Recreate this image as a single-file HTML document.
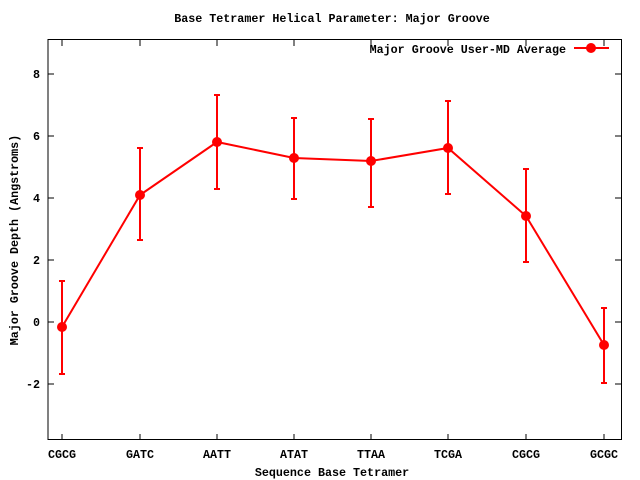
<!DOCTYPE html>
<html><head><style>body{margin:0;background:#fff}svg{display:block}text{font-family:"Liberation Mono",monospace;font-size:11.7px;font-weight:bold;fill:#000}</style></head><body>
<svg width="640" height="480" xmlns="http://www.w3.org/2000/svg">
<rect x="48" y="39.5" width="573.5" height="400" fill="none" stroke="#000" stroke-width="1"/>
<g stroke="#000">
<path d="M48 74h6M621 74h-6M48 136h6M621 136h-6M48 198h6M621 198h-6M48 260h6M621 260h-6M48 322h6M621 322h-6M48 384h6M621 384h-6"/>
<path d="M62 440v-6M140 440v-6M217 440v-6M294 440v-6M371 440v-6M448 440v-6M526 440v-6M604 440v-6M62 40v6M140 40v6M217 40v6M294 40v6M371 40v6M448 40v6M526 40v6M604 40v6"/>
</g>
<g text-anchor="end"><text x="40" y="78">8</text><text x="40" y="140">6</text><text x="40" y="202">4</text><text x="40" y="264">2</text><text x="40" y="326">0</text><text x="40" y="388">-2</text></g>
<g text-anchor="middle"><text x="62" y="458">CGCG</text><text x="140" y="458">GATC</text><text x="217" y="458">AATT</text><text x="294" y="458">ATAT</text><text x="371" y="458">TTAA</text><text x="448" y="458">TCGA</text><text x="526" y="458">CGCG</text><text x="604" y="458">GCGC</text>
<text x="332" y="476">Sequence Base Tetramer</text>
<text x="332" y="22">Base Tetramer Helical Parameter: Major Groove</text>
<text transform="translate(18,240) rotate(-90)">Major Groove Depth (Angstroms)</text></g>
<text x="566" y="53" text-anchor="end">Major Groove User-MD Average</text>
<g stroke="#f00" stroke-width="2" fill="none">
<path d="M574 48h35"/>
<polyline points="62,327 140,195 217,142 294,158 371,161 448,148 526,216 604,345"/>
<path d="M62 281v93M59 281h6M59 374h6 M140 148v92M137 148h6M137 240h6 M217 95v94M214 95h6M214 189h6 M294 118v81M291 118h6M291 199h6 M371 119v88M368 119h6M368 207h6 M448 101v93M445 101h6M445 194h6 M526 169v93M523 169h6M523 262h6 M604 308v75M601 308h6M601 383h6"/>
</g>
<g fill="#f00"><circle cx="591" cy="48" r="5"/><circle cx="62" cy="327" r="5"/><circle cx="140" cy="195" r="5"/><circle cx="217" cy="142" r="5"/><circle cx="294" cy="158" r="5"/><circle cx="371" cy="161" r="5"/><circle cx="448" cy="148" r="5"/><circle cx="526" cy="216" r="5"/><circle cx="604" cy="345" r="5"/></g>
</svg>
</body></html>
